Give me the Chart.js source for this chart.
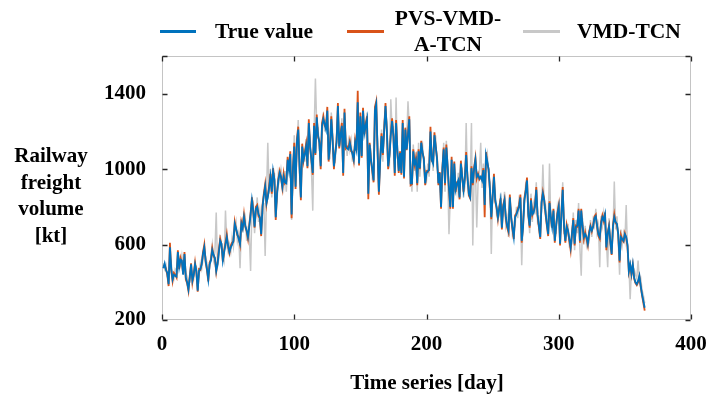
<!DOCTYPE html>
<html>
<head>
<meta charset="utf-8">
<script src="https://cdn.jsdelivr.net/npm/chart.js@4.4.1/dist/chart.umd.min.js"></script>
<style>
  body { margin: 0; background: #fff; }
  #wrap { position: relative; width: 708px; height: 394px; font-family: "Liberation Serif", "Times New Roman", serif; font-weight: bold; font-size: 21px; color: #000; }
  #wrap div { position: absolute; line-height: 26px; white-space: nowrap; }
  .swatch { height: 3px; }
</style>
</head>
<body>
<div id="wrap">
  <canvas id="chart" width="708" height="394"></canvas>
  <div class="swatch" style="left:160px;top:30px;width:36px;background:#0072BD"></div>
  <div style="left:215px;top:18px;font-size:21.5px">True value</div>
  <div class="swatch" style="left:347px;top:30px;width:37px;background:#D95319"></div>
  <div style="left:388px;top:5px;width:120px;text-align:center;font-size:21.5px">PVS-VMD-<br>A-TCN</div>
  <div class="swatch" style="left:523px;top:30px;width:37px;background:#C8C8C8"></div>
  <div style="left:577px;top:18px;font-size:21.5px">VMD-TCN</div>
  <div style="left:0px;top:142px;width:102px;text-align:center;line-height:26.6px">Railway<br>freight<br>volume<br>[kt]</div>
  <div style="left:327px;top:369px;width:200px;text-align:center">Time series [day]</div>
</div>
<script>
// ticks
const xTicks = [0, 100, 200, 300, 400];
const yTicks = [200, 600, 1000, 1400];

// days 1..365
const days = Array.from({ length: 365 }, (_, i) => i + 1);

// true value
const trueValue = [
  475,500,465,450,390,585,470,415,440,435,
  430,560,480,520,515,440,550,425,400,362,
  425,495,410,440,495,460,355,460,470,495,
  550,585,515,470,415,495,515,570,545,530,
  460,495,560,620,605,515,560,600,640,595,
  560,585,600,620,710,685,655,630,605,710,
  685,745,700,675,640,695,760,835,780,695,
  790,800,760,745,655,800,860,907,820,850,
  900,960,880,990,945,745,870,940,980,960,
  907,960,930,925,1050,995,1080,760,995,1120,
  907,1140,1210,1015,850,1120,1050,1080,1120,1015,
  1245,1120,1050,980,1230,1085,1275,1180,1140,1015,
  1230,1265,1240,1210,1310,1050,1120,1265,1155,1015,
  1080,1140,1335,1120,1180,1230,980,1300,1120,1110,
  1105,1140,1105,1080,1050,1140,1105,1355,1030,1280,
  1070,1310,1190,1230,1265,870,1130,1050,1000,940,
  1310,1345,1100,880,1050,1175,1085,1200,1335,1210,
  1015,1070,1180,1255,1175,980,1245,1100,990,1085,
  980,1245,960,1210,1105,1180,1265,925,925,1095,
  1030,1050,925,1095,1005,1140,1090,1050,925,980,
  990,995,1200,1050,1030,1180,1120,1050,925,980,
  800,1000,1105,925,1115,1015,900,800,1050,800,
  1030,890,920,940,850,1030,960,890,950,1075,
  960,870,850,1005,925,1000,1050,960,970,950,
  960,940,995,810,1075,1040,995,890,745,850,
  960,835,800,745,790,835,690,800,835,745,
  700,675,850,745,690,640,745,760,780,800,
  850,620,690,835,880,940,760,700,835,760,
  770,800,890,760,700,640,820,870,835,770,
  710,655,820,750,695,780,620,695,760,800,
  605,760,890,700,620,695,675,630,585,655,
  730,605,695,700,780,620,780,700,640,655,
  640,605,660,695,675,695,740,750,700,655,
  640,710,745,730,760,585,655,695,620,550,
  695,745,720,710,655,515,640,630,620,655,
  640,600,460,495,445,495,425,400,390,407,
  435,380,335,300,265
];

// PVS-VMD-A-TCN forecast
const pvsVmdATcn = [
  485,490,470,440,380,610,460,405,450,440,
  425,570,470,530,505,445,560,415,395,355,
  435,500,400,445,505,450,350,470,465,500,
  560,600,505,465,405,505,520,580,540,525,
  455,505,575,630,600,510,570,610,655,590,
  555,595,610,615,720,680,650,640,600,720,
  690,760,695,670,630,705,770,850,775,690,
  800,810,750,740,645,810,870,920,815,860,
  910,975,870,1005,940,730,880,950,990,955,
  900,975,925,935,1065,990,1095,740,1005,1140,
  895,1160,1225,1005,835,1135,1045,1090,1135,1005,
  1265,1110,1045,970,1245,1075,1290,1170,1150,1000,
  1245,1280,1230,1220,1330,1040,1130,1280,1150,1000,
  1090,1150,1350,1110,1190,1245,965,1320,1110,1120,
  1110,1150,1095,1090,1045,1150,1100,1415,1020,1300,
  1060,1325,1185,1240,1280,840,1140,1045,990,930,
  1330,1360,1090,865,1060,1190,1075,1215,1350,1200,
  1000,1080,1190,1270,1170,965,1260,1095,980,1095,
  970,1260,950,1220,1100,1190,1280,915,920,1105,
  1025,1060,915,1105,1000,1150,1085,1060,915,990,
  985,1005,1225,1045,1035,1195,1115,1060,915,985,
  790,1010,1115,915,1130,1010,890,790,1065,790,
  1040,880,930,935,840,1045,955,880,960,1090,
  955,860,845,1015,915,1010,1060,950,975,945,
  955,950,1005,745,1090,1030,1000,880,735,860,
  975,825,795,735,800,845,680,810,840,735,
  690,665,865,740,680,630,755,765,790,810,
  865,610,700,845,890,955,750,690,845,755,
  780,810,905,750,690,630,830,880,840,760,
  700,645,830,745,690,790,610,705,770,810,
  595,770,905,690,610,705,670,620,570,665,
  740,595,700,695,790,610,790,695,630,665,
  630,595,670,700,670,700,750,760,695,645,
  630,720,755,725,770,570,665,700,610,545,
  705,760,715,705,650,505,650,625,615,660,
  635,590,455,490,440,490,420,395,385,400,
  430,375,330,290,250
];

// VMD-TCN forecast
const vmdTcn = [
  500,470,490,430,420,540,500,440,420,470,
  460,520,510,490,540,470,520,450,430,390,
  400,470,450,420,470,480,400,430,500,470,
  520,560,540,500,440,470,540,600,520,560,
  770,480,530,650,580,560,520,780,600,560,
  600,560,640,590,680,720,620,660,475,680,
  730,700,740,620,680,650,460,800,820,660,
  760,850,720,780,700,760,820,540,860,1140,
  870,1000,850,930,980,800,830,980,940,1000,
  950,900,990,880,1010,1040,1030,730,950,1180,
  960,1100,1260,1060,900,1080,1100,1040,1160,1060,
  1200,1170,1000,780,1190,1480,1230,1220,1100,1060,
  1190,1300,1200,1260,1270,1090,1070,1300,1200,1050,
  1040,1180,1300,1170,1140,1270,1020,1260,1160,1070,
  1150,1100,1150,1040,1100,1100,1150,1320,1080,1240,
  1110,1280,1230,1190,1300,920,1090,1100,960,980,
  1270,1310,1150,920,1010,1210,1040,1250,1300,1250,
  1060,1030,1370,1210,1220,1020,1380,1060,1030,1040,
  1020,1200,1000,1170,1150,1360,1220,970,880,1130,
  990,1090,880,1140,960,1100,1130,1010,970,940,
  1030,960,1160,1090,990,1140,1160,1010,970,940,
  850,960,1140,880,1150,980,655,850,1010,850,
  990,930,880,980,890,990,1000,850,910,1245,
  920,910,890,1245,595,960,1010,690,930,990,
  1140,900,1030,850,1040,1080,950,930,550,890,
  920,870,760,780,760,870,730,760,880,700,
  740,640,810,790,650,680,700,800,740,840,
  810,490,730,800,920,900,800,660,870,720,
  810,760,930,720,740,680,780,1025,800,810,
  750,700,1030,710,730,740,660,660,800,760,
  650,720,930,660,660,650,710,600,620,610,
  770,570,730,660,820,580,435,740,600,700,
  600,640,620,730,640,730,700,790,660,700,
  480,750,700,770,720,620,480,740,580,590,
  650,935,680,750,620,440,680,600,660,620,
  810,560,500,310,480,460,470,440,420,515,
  400,420,360,330,290
];

function toPoints(values) {
  return values.map((v, i) => ({ x: days[i], y: v }));
}

// gray box and inward ticks like the original figure
const boxPlugin = {
  id: 'box',
  beforeDatasetsDraw(chart) {
    const { ctx, chartArea } = chart;
    ctx.save();
    ctx.strokeStyle = '#c4c4c4';
    ctx.lineWidth = 1;
    ctx.strokeRect(Math.round(chartArea.left) + 0.5, Math.round(chartArea.top) + 0.5,
      Math.round(chartArea.right - chartArea.left) - 1, Math.round(chartArea.bottom - chartArea.top) - 1);
    ctx.restore();
  },
  afterDraw(chart) {
    const { ctx, chartArea, scales } = chart;
    const l = Math.round(chartArea.left) + 0.5, r = Math.round(chartArea.right) - 0.5;
    const t = Math.round(chartArea.top) + 0.5, b = Math.round(chartArea.bottom) - 0.5;
    const len = 5;
    ctx.save();
    ctx.strokeStyle = '#262626';
    ctx.lineWidth = 1.3;
    ctx.beginPath();
    xTicks.forEach(v => {
      const px = Math.round(scales.x.getPixelForValue(v)) + 0.5;
      ctx.moveTo(px, b); ctx.lineTo(px, b - len);
      ctx.moveTo(px, t); ctx.lineTo(px, t + len);
    });
    yTicks.concat([scales.y.max]).forEach(v => {
      const py = Math.round(scales.y.getPixelForValue(v)) + 0.5;
      ctx.moveTo(l, py); ctx.lineTo(l + len, py);
      ctx.moveTo(r, py); ctx.lineTo(r - len, py);
    });
    ctx.stroke();
    ctx.restore();
  }
};

const tickFont = { family: '"Liberation Serif", "Times New Roman", serif', size: 21, weight: 'bold' };

new Chart(document.getElementById('chart'), {
  type: 'line',
  data: {
    datasets: [
      { label: 'True value', data: toPoints(trueValue), borderColor: '#0072BD', borderWidth: 1.8, order: 1 },
      { label: 'PVS-VMD-A-TCN', data: toPoints(pvsVmdATcn), borderColor: '#D95319', borderWidth: 1.8, order: 2 },
      { label: 'VMD-TCN', data: toPoints(vmdTcn), borderColor: '#C8C8C8', borderWidth: 1.5, order: 3 }
    ]
  },
  options: {
    responsive: false,
    animation: false,
    devicePixelRatio: 1,
    layout: { padding: { top: 56, right: 17, left: 0, bottom: 0 } },
    elements: { point: { radius: 0 }, line: { tension: 0 } },
    plugins: { legend: { display: false }, tooltip: { enabled: false } },
    scales: {
      x: {
        type: 'linear', min: 0, max: 400,
        afterBuildTicks: s => { s.ticks = xTicks.map(v => ({ value: v })); },
        afterFit: s => { s.height = 74; s.paddingLeft = 0; s.paddingRight = 0; },
        grid: { display: false, drawTicks: false },
        border: { display: false },
        ticks: { font: tickFont, color: '#000', padding: 12, maxRotation: 0, callback: v => String(v) }
      },
      y: {
        min: 200, max: 1600,
        afterBuildTicks: s => { s.ticks = yTicks.map(v => ({ value: v })); },
        afterFit: s => { s.width = 162; s.paddingTop = 0; s.paddingBottom = 0; },
        grid: { display: false, drawTicks: false },
        border: { display: false },
        ticks: { font: tickFont, color: '#000', padding: 16, callback: v => String(v) }
      }
    }
  },
  plugins: [boxPlugin]
});
</script>
</body>
</html>
